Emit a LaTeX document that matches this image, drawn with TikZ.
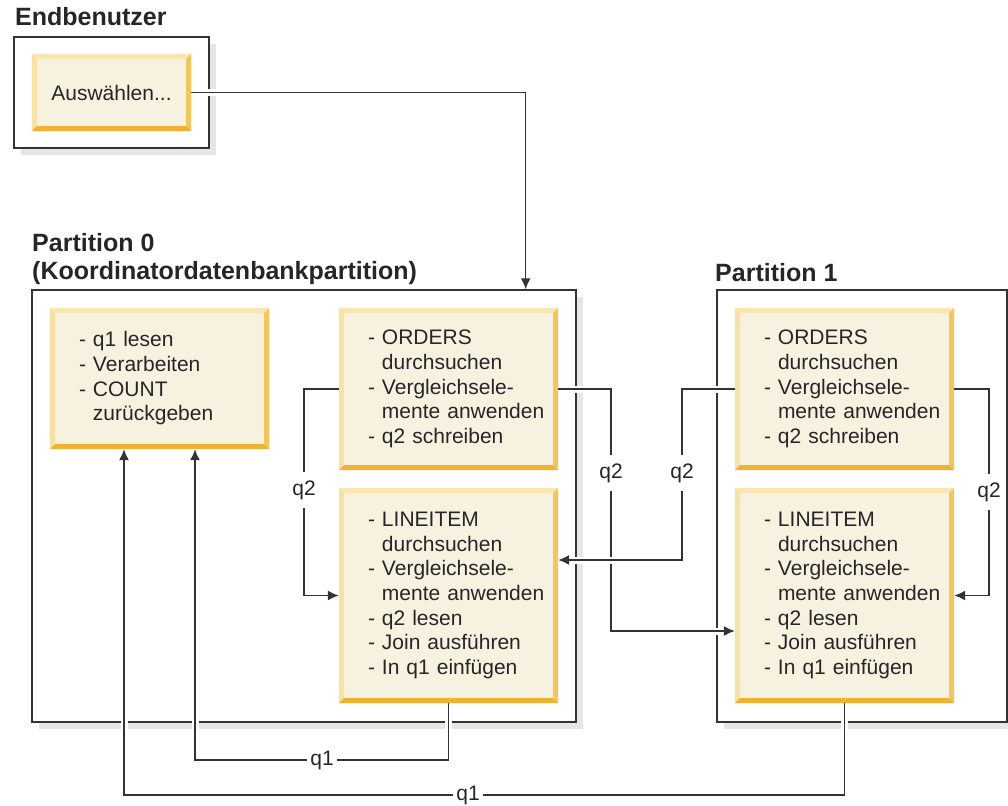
\documentclass[tikz,border=0pt]{standalone}
\usepackage{fontspec}
\setmainfont{Liberation Sans}
\usetikzlibrary{calc,arrows.meta,shadows}
\definecolor{cream}{HTML}{F7F1DF}
\definecolor{bevtop}{HTML}{FAE6B0}
\definecolor{bevleft}{HTML}{F8E1A4}
\definecolor{bevright}{HTML}{F4C65A}
\definecolor{bevbot}{HTML}{F1B232}
\definecolor{linec}{HTML}{333333}
\definecolor{shadowc}{HTML}{E6E6E6}
\newcommand\dgbody{\fontsize{21}{24.7}\selectfont}
\newcommand\dgtitle{\fontsize{25}{28}\selectfont\bfseries}
\newcommand\bevelbox[1]{%
  \fill[bevtop] (#1.north west) -- (#1.north east) -- ([shift={(-5,5)}]#1.north east) -- ([shift={(5,5)}]#1.north west) -- cycle;
  \fill[bevleft] (#1.north west) -- ([shift={(5,5)}]#1.north west) -- ([shift={(5,-5)}]#1.south west) -- (#1.south west) -- cycle;
  \fill[bevright] (#1.north east) -- (#1.south east) -- ([shift={(-5,-5)}]#1.south east) -- ([shift={(-5,5)}]#1.north east) -- cycle;
  \fill[bevbot] (#1.south west) -- (#1.south east) -- ([shift={(-5,-5)}]#1.south east) -- ([shift={(5,-5)}]#1.south west) -- cycle;
}
\tikzset{
  pbox/.style={draw=linec, line width=1.4pt, fill=white, inner sep=0pt,
    general shadow={fill=shadowc, shadow xshift=7pt, shadow yshift=-7pt}},
  ybox/.style={fill=cream, minimum width=219pt, inner xsep=29pt, inner ysep=0pt,
    text width=161pt, align=left, font=\dgbody, text=black!85},
  conn/.style={draw=linec, line width=1.5pt, -{Latex[length=11pt,width=10pt]},
    preaction={draw=white, line width=7pt, -, shorten >=3pt, shorten <=3pt}},
  lbl/.style={fill=white, font=\dgbody, inner xsep=3pt, inner ysep=8pt, text=black!85},
  ttl/.style={font=\dgtitle, inner sep=0pt, text=black!85, align=left},
}
\begin{document}
\begin{tikzpicture}[x=1pt, y=-1pt]
\useasboundingbox (0,0) rectangle (1008,805);

% titles
\node[ttl, anchor=base west] (tEU) at (15,26) {Endbenutzer};
\node[ttl, anchor=base west] (tP0) at (32,279) {Partition 0\\(Koordinatordatenbankpartition)};
\node[ttl, anchor=base west] (tP1) at (715,281) {Partition 1};

% container boxes
\node[pbox, minimum width=195pt, minimum height=111pt] (EU) at (111.5,92.5) {};
\node[pbox, minimum width=544pt, minimum height=432pt] (P0) at (304,506) {};
\node[pbox, minimum width=290pt, minimum height=432pt] (P1) at (862,506) {};

% yellow boxes
\node[fill=cream, minimum width=159pt, minimum height=77pt, font=\dgbody, text=black!85] (U) at (111.5,92.5) {Auswählen...};
\bevelbox{U}
\node[ybox, minimum height=141pt] (A) at (159.5,378.5)
  {\mbox{- q1 lesen}\\\mbox{- Verarbeiten}\\\mbox{- COUNT}\\\mbox{\hphantom{- }zurückgeben}};
\bevelbox{A}
\node[ybox, minimum height=162pt] (B) at (448.5,389)
  {\mbox{- ORDERS}\\\mbox{\hphantom{- }durchsuchen}\\\mbox{- Vergleichsele-}\\\mbox{\hphantom{- }mente anwenden}\\\mbox{- q2 schreiben}};
\bevelbox{B}
\node[ybox, minimum height=215pt] (C) at (448.5,595.5)
  {\mbox{- LINEITEM}\\\mbox{\hphantom{- }durchsuchen}\\\mbox{- Vergleichsele-}\\\mbox{\hphantom{- }mente anwenden}\\\mbox{- q2 lesen}\\\mbox{- Join ausführen}\\\mbox{- In q1 einfügen}};
\bevelbox{C}
\node[ybox, minimum height=162pt] (D) at (844.5,389)
  {\mbox{- ORDERS}\\\mbox{\hphantom{- }durchsuchen}\\\mbox{- Vergleichsele-}\\\mbox{\hphantom{- }mente anwenden}\\\mbox{- q2 schreiben}};
\bevelbox{D}
\node[ybox, minimum height=215pt] (E) at (844.5,595.5)
  {\mbox{- LINEITEM}\\\mbox{\hphantom{- }durchsuchen}\\\mbox{- Vergleichsele-}\\\mbox{\hphantom{- }mente anwenden}\\\mbox{- q2 lesen}\\\mbox{- Join ausführen}\\\mbox{- In q1 einfügen}};
\bevelbox{E}

% connectors
\draw[conn] (U.east) -| ($(P0.north east)+(-51,0)$);
\draw[conn] (B.west) -- ++(-35,0) |- (C.west);
\draw[conn] (B.east) -- ++(53,0) |- ($(E.west)+(0,35.5)$);
\draw[conn] (D.east) -- ++(35,0) |- (E.east);
\draw[conn] (C.south) -- ++(0,57) -| ($(A.south)+(35.5,0)$);
\draw[conn] (E.south) -- ++(0,92) -| ($(A.south)+(-35.5,0)$);
\draw[conn] (D.west) -- ++(-53,0) |- ($(C.east)+(0,-35.5)$);

% labels
\node[lbl] (l1) at (304,490) {q2};
\node[lbl] (l2) at (611,473) {q2};
\node[lbl] (l3) at (682,473) {q2};
\node[lbl] (l4) at (989,492) {q2};
\node[lbl, inner ysep=2pt] (l5) at (322,760) {q1};
\node[lbl, inner ysep=2pt] (l6) at (468,795) {q1};
\end{tikzpicture}
\end{document}
